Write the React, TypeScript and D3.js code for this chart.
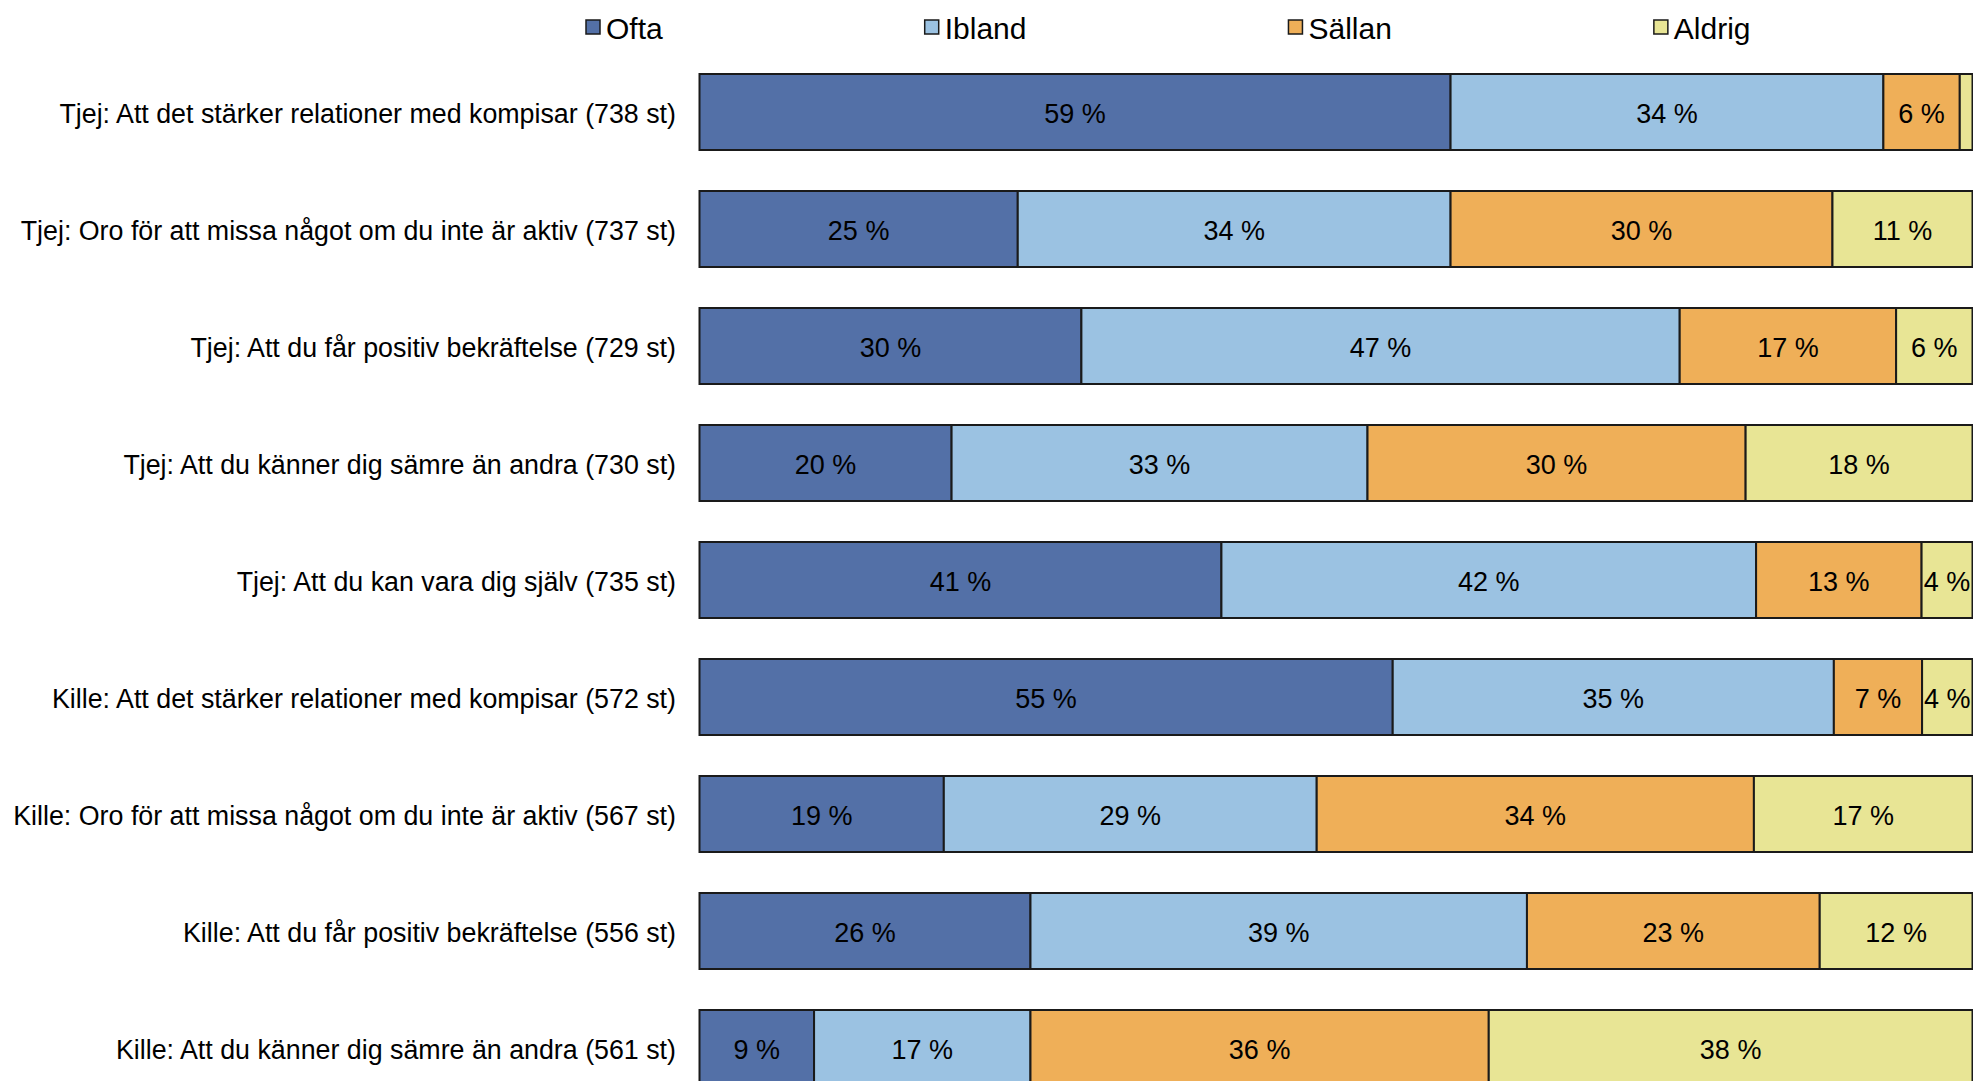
import React, { useEffect, useRef } from "react";
import * as d3 from "d3";

const categories = [
  "Tjej: Att det stärker relationer med kompisar (738 st)",
  "Tjej: Oro för att missa något om du inte är aktiv (737 st)",
  "Tjej: Att du får positiv bekräftelse (729 st)",
  "Tjej: Att du känner dig sämre än andra (730 st)",
  "Tjej: Att du kan vara dig själv (735 st)",
  "Kille: Att det stärker relationer med kompisar (572 st)",
  "Kille: Oro för att missa något om du inte är aktiv (567 st)",
  "Kille: Att du får positiv bekräftelse (556 st)",
  "Kille: Att du känner dig sämre än andra (561 st)",
];

const seriesNames = ["Ofta", "Ibland", "Sällan", "Aldrig"];

const ofta = [59, 25, 30, 20, 41, 55, 19, 26, 9];
const ibland = [34, 34, 47, 33, 42, 35, 29, 39, 17];
const sallan = [6, 30, 17, 30, 13, 7, 34, 23, 36];
const aldrig = [1, 11, 6, 18, 4, 4, 17, 12, 38];

const colors = ["#5370A7", "#9BC2E2", "#EFAF58", "#E8E595"];

const W = 1973;
const H = 1081;
const barLeft = 699.5;
const barRight = 1972.5;
const firstTop = 74;
const pitch = 117;
const barH = 76;
const FONT = "'Liberation Sans', Arial, sans-serif";

export default function App() {
  const ref = useRef<SVGSVGElement | null>(null);

  useEffect(() => {
    document.body.style.margin = "0";
    const svg = d3.select(ref.current);
    svg.selectAll("*").remove();

    const rows = categories.map((c, i) => ({
      cat: c,
      Ofta: ofta[i],
      Ibland: ibland[i],
      "Sällan": sallan[i],
      Aldrig: aldrig[i],
    }));

    const stack = d3
      .stack<any>()
      .keys(seriesNames)
      .offset(d3.stackOffsetExpand);
    const stacked = stack(rows);

    const x = d3.scaleLinear().domain([0, 1]).range([barLeft, barRight]);
    const y = d3
      .scaleBand<string>()
      .domain(categories)
      .range([firstTop - (pitch - barH) / 2, firstTop - (pitch - barH) / 2 + pitch * categories.length])
      .paddingInner((pitch - barH) / pitch)
      .paddingOuter((pitch - barH) / pitch / 2);

    const g = svg.append("g");

    stacked.forEach((layer, si) => {
      const lg = g.append("g");
      lg.selectAll("rect")
        .data(layer)
        .join("rect")
        .attr("x", (d: any) => x(d[0]))
        .attr("y", (d: any) => y(d.data.cat)!)
        .attr("width", (d: any) => x(d[1]) - x(d[0]))
        .attr("height", y.bandwidth())
        .attr("fill", colors[si])
        .attr("stroke", "#1a1a1a")
        .attr("stroke-width", 2);
    });

    stacked.forEach((layer, si) => {
      const key = seriesNames[si];
      g.append("g")
        .selectAll("text")
        .data(layer.filter((d: any) => x(d[1]) - x(d[0]) > 40))
        .join("text")
        .attr("x", (d: any) => (x(d[0]) + x(d[1])) / 2)
        .attr("y", (d: any) => y(d.data.cat)! + y.bandwidth() / 2 + 1.5)
        .attr("dy", "0.35em")
        .attr("text-anchor", "middle")
        .attr("font-family", FONT)
        .attr("font-size", 27)
        .attr("fill", "#000")
        .text((d: any) => `${d.data[key]} %`);
    });

    // category labels
    g.append("g")
      .selectAll("text")
      .data(categories)
      .join("text")
      .attr("x", 676)
      .attr("y", (c) => y(c)! + y.bandwidth() / 2 + 1.5)
      .attr("dy", "0.35em")
      .attr("text-anchor", "end")
      .attr("font-family", FONT)
      .attr("font-size", 26.8)
      .attr("fill", "#000")
      .text((c) => c);

    // legend
    const leg = svg.append("g");
    let lx = 586;
    seriesNames.forEach((name, i) => {
      leg
        .append("rect")
        .attr("x", lx)
        .attr("y", 20)
        .attr("width", 14)
        .attr("height", 14)
        .attr("fill", colors[i])
        .attr("stroke", "#1a1a1a")
        .attr("stroke-width", 1.5);
      const t = leg
        .append("text")
        .attr("x", lx + 20)
        .attr("y", 38.5)
        .attr("font-family", FONT)
        .attr("font-size", 30)
        .attr("fill", "#000")
        .text(name);
      const tw = (t.node() as SVGTextElement).getComputedTextLength();
      lx = lx + 20 + tw + 262;
    });
  }, []);

  return (
    <svg
      ref={ref}
      width={W}
      height={H}
      style={{ position: "absolute", left: 0, top: 0, display: "block", background: "#fff" }}
    />
  );
}
